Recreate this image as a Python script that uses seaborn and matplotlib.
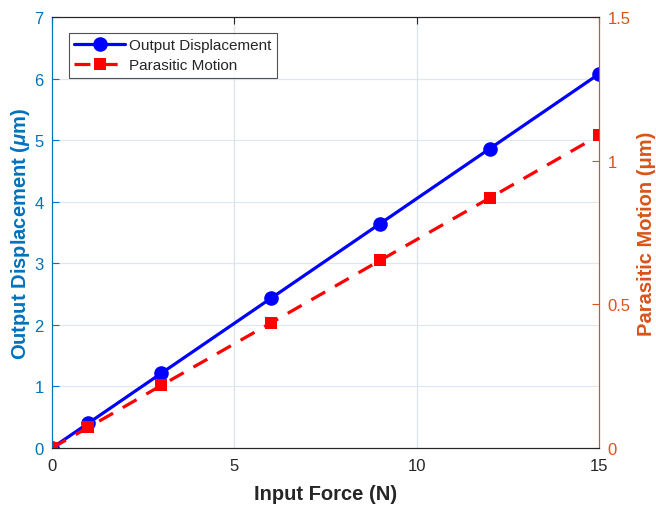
import matplotlib
matplotlib.use("Agg")
import matplotlib.pyplot as plt
import pandas as pd
import seaborn as sns

# data
input_force = [0, 1, 3, 6, 9, 12, 15]
output_displacement = [0, 0.405, 1.215, 2.43, 3.645, 4.86, 6.075]
parasitic_motion = [0, 0.072, 0.218, 0.435, 0.653, 0.870, 1.088]

left_ticks = [0, 1, 2, 3, 4, 5, 6, 7]
right_ticks = [0, 0.5, 1, 1.5]
x_ticks = [0, 5, 10, 15]

BLUE_AX = "#0072BD"
ORANGE_AX = "#D95319"
TEXT = "#262626"

sns.set_style("white")
plt.rcParams["font.family"] = ["Liberation Sans", "DejaVu Sans"]
plt.rcParams["mathtext.fontset"] = "custom"
plt.rcParams["mathtext.it"] = "Liberation Sans:italic:bold"
plt.rcParams["mathtext.rm"] = "Liberation Sans:bold"

df = pd.DataFrame({
    "force": input_force,
    "disp": output_displacement,
    "parasitic": parasitic_motion,
})

fig, ax = plt.subplots(figsize=(6.56, 5.06), dpi=100)
fig.subplots_adjust(left=52 / 656, right=599 / 656, top=1 - 18 / 506, bottom=1 - 449 / 506)

sns.lineplot(data=df, x="force", y="disp", ax=ax, color="#0000FF", linewidth=2.3,
             marker="o", markersize=10.5, markeredgewidth=0, label="Output Displacement",
             legend=False)
ax2 = ax.twinx()
sns.lineplot(data=df, x="force", y="parasitic", ax=ax2, color="#FF0000", linewidth=2.3,
             linestyle=(0, (5, 3.5)), marker="s", markersize=8, markeredgewidth=0,
             label="Parasitic Motion", legend=False)

ax.set_xlim(0, 15)
ax.set_ylim(0, 7)
ax2.set_ylim(0, 1.5)
ax.set_xticks(x_ticks)
ax.set_yticks(left_ticks)
ax2.set_yticks(right_ticks)
ax2.set_yticklabels(["0", "0.5", "1", "1.5"])

# grid lines, MATLAB style
for y in left_ticks[1:-1]:
    ax.axhline(y, color="#dce9f4", linewidth=0.9, zorder=0)
for x in x_ticks[1:-1]:
    ax.axvline(x, color="#dfe3e8", linewidth=0.9, zorder=0)

ax.set_xlabel("Input Force (N)", fontsize=14.5, fontweight="bold", color=TEXT, labelpad=8)
ax.set_ylabel(r"Output Displacement ($\mu$m)", fontsize=14.5, fontweight="bold",
              color=BLUE_AX, labelpad=2)
ax2.set_ylabel("Parasitic Motion (μm)", fontsize=14.5, fontweight="bold",
               color=ORANGE_AX, labelpad=5)

for a in (ax, ax2):
    for s in a.spines.values():
        s.set_linewidth(0.8)
    a.spines["top"].set_color("#262626")
    a.spines["bottom"].set_color("#262626")
    a.spines["left"].set_color(BLUE_AX)
    a.spines["right"].set_color(ORANGE_AX)

ax.tick_params(axis="x", direction="in", length=5, colors=TEXT, labelsize=12,
               top=True, pad=7)
ax.tick_params(axis="y", direction="in", length=5, colors=BLUE_AX, labelsize=12, pad=6)
ax2.tick_params(axis="y", direction="in", length=5, colors=ORANGE_AX, labelsize=12, pad=6)

h1, l1 = ax.get_legend_handles_labels()
h2, l2 = ax2.get_legend_handles_labels()
leg = ax2.legend(h1 + h2, l1 + l2, loc="upper left",
                 bbox_to_anchor=(17 / 547, 1 - 16 / 431),
                 fontsize=11, frameon=True, fancybox=False, handlelength=3.3,
                 borderpad=0.35, labelspacing=0.4, handletextpad=0.3,
                 borderaxespad=0)
leg.get_frame().set_edgecolor("#262626")
leg.get_frame().set_linewidth(0.8)

fig.savefig("out.png", dpi=100)
